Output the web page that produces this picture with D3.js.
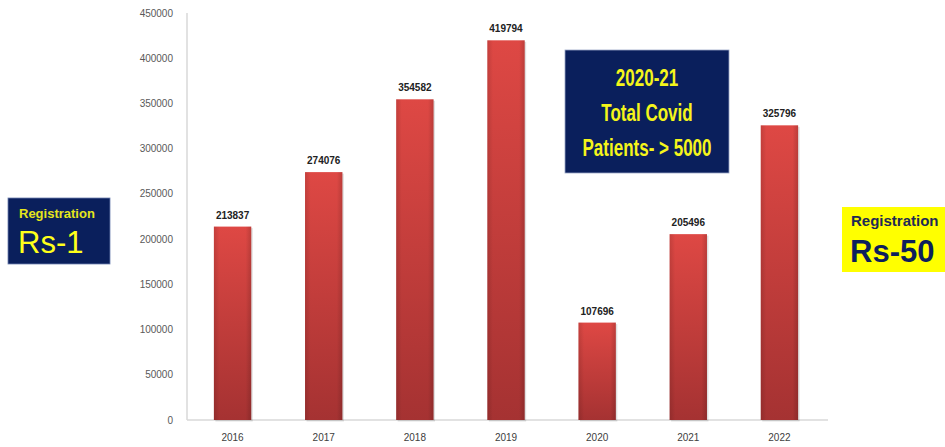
<!DOCTYPE html>
<html>
<head>
<meta charset="utf-8">
<script src="https://cdn.jsdelivr.net/npm/d3@7"></script>
<style>
  body { margin: 0; background: #fff; }
  svg { display: block; font-family: "Liberation Sans", Arial, sans-serif; }
</style>
</head>
<body>
<svg id="chart" width="945" height="447"></svg>
<script>
const years = ['2016', '2017', '2018', '2019', '2020', '2021', '2022'];
const patients = [213837, 274076, 354582, 419794, 107696, 205496, 325796];
const yTicks = [0, 50000, 100000, 150000, 200000, 250000, 300000, 350000, 400000, 450000];
const covidNote = ['2020-21', 'Total Covid', 'Patients- > 5000'];

const margin = { left: 187, right: 120, top: 13, bottom: 27 };
const width = 945;
const height = 447;

const svg = d3.select('#chart');

const x = d3.scaleBand()
    .domain(years)
    .range([margin.left, width - margin.right])
    .paddingInner(0.59)
    .paddingOuter(0.295);

const y = d3.scaleLinear()
    .domain([0, 450000])
    .range([height - margin.bottom, margin.top]);

// bar gradient
const defs = svg.append('defs');
const grad = defs.append('linearGradient')
    .attr('id', 'barGrad')
    .attr('x1', 0).attr('y1', 0).attr('x2', 0).attr('y2', 1);
grad.append('stop').attr('offset', '0%').attr('stop-color', '#de4844');
grad.append('stop').attr('offset', '100%').attr('stop-color', '#a53232');

const side = defs.append('linearGradient')
    .attr('id', 'sideGrad')
    .attr('x1', 0).attr('y1', 0).attr('x2', 1).attr('y2', 0);
side.append('stop').attr('offset', '0%').attr('stop-color', '#000').attr('stop-opacity', 0.12);
side.append('stop').attr('offset', '15%').attr('stop-color', '#000').attr('stop-opacity', 0);
side.append('stop').attr('offset', '85%').attr('stop-color', '#000').attr('stop-opacity', 0);
side.append('stop').attr('offset', '100%').attr('stop-color', '#000').attr('stop-opacity', 0.15);

// axes lines
svg.append('line')
    .attr('x1', margin.left).attr('x2', margin.left)
    .attr('y1', y(450000)).attr('y2', y(0))
    .attr('stroke', '#d9d9d9').attr('stroke-width', 1.5);
svg.append('line')
    .attr('x1', margin.left).attr('x2', width - margin.right + 3)
    .attr('y1', y(0)).attr('y2', y(0))
    .attr('stroke', '#d9d9d9').attr('stroke-width', 1.5);

// y tick labels
svg.append('g')
    .selectAll('text')
    .data(yTicks)
    .join('text')
    .attr('x', margin.left - 14)
    .attr('y', d => y(d))
    .attr('dy', '0.35em')
    .attr('text-anchor', 'end')
    .attr('font-size', 10)
    .attr('fill', '#595959')
    .text(d => d);

// bars
const bars = svg.append('g')
    .selectAll('g')
    .data(years.map((yr, i) => ({ yr, v: patients[i] })))
    .join('g');

bars.append('rect')
    .attr('x', d => x(d.yr) + 1.5)
    .attr('y', d => y(d.v) + 1.5)
    .attr('width', x.bandwidth())
    .attr('height', d => y(0) - y(d.v))
    .attr('fill', '#000')
    .attr('opacity', 0.12);

bars.append('rect')
    .attr('x', d => x(d.yr))
    .attr('y', d => y(d.v))
    .attr('width', x.bandwidth())
    .attr('height', d => y(0) - y(d.v))
    .attr('fill', 'url(#barGrad)');

bars.append('rect')
    .attr('x', d => x(d.yr))
    .attr('y', d => y(d.v))
    .attr('width', x.bandwidth())
    .attr('height', d => y(0) - y(d.v))
    .attr('fill', 'url(#sideGrad)');

// value labels
bars.append('text')
    .attr('x', d => x(d.yr) + x.bandwidth() / 2)
    .attr('y', d => y(d.v) - 8)
    .attr('text-anchor', 'middle')
    .attr('font-size', 10)
    .attr('font-weight', 'bold')
    .attr('fill', '#222')
    .text(d => d.v);

// x labels
svg.append('g')
    .selectAll('text')
    .data(years)
    .join('text')
    .attr('x', d => x(d) + x.bandwidth() / 2)
    .attr('y', y(0) + 17)
    .attr('dy', '0.35em')
    .attr('text-anchor', 'middle')
    .attr('font-size', 10)
    .attr('fill', '#404040')
    .text(d => d);

// left note box
const left = svg.append('g');
left.append('rect')
    .attr('x', 8).attr('y', 198).attr('width', 102).attr('height', 66)
    .attr('fill', '#0a1f5c').attr('stroke', '#6d7fae').attr('stroke-width', 0.8);
left.append('text')
    .attr('x', 19).attr('y', 218)
    .attr('font-size', 13).attr('font-weight', 'bold')
    .attr('fill', '#e5e51c')
    .text('Registration');
left.append('text')
    .attr('x', 18).attr('y', 253)
    .attr('font-size', 31)
    .attr('fill', '#ffff1a')
    .text('Rs-1');

// right note box
const right = svg.append('g');
right.append('rect')
    .attr('x', 842).attr('y', 207).attr('width', 103).attr('height', 65)
    .attr('fill', '#ffff00');
right.append('text')
    .attr('x', 851).attr('y', 226)
    .attr('font-size', 15).attr('font-weight', 'bold')
    .attr('fill', '#1e2a55')
    .text('Registration');
right.append('text')
    .attr('x', 850).attr('y', 262)
    .attr('font-size', 31).attr('font-weight', 'bold')
    .attr('fill', '#0d1f5c')
    .text('Rs-50');

// covid note box
const covid = svg.append('g');
covid.append('rect')
    .attr('x', 565).attr('y', 50).attr('width', 164).attr('height', 123)
    .attr('fill', '#0a1f5c').attr('stroke', '#9aa6c6').attr('stroke-width', 0.8);
const cx = 647;
const squeeze = 0.74;
covid.append('g')
    .attr('transform', `translate(${cx},0) scale(${squeeze},1)`)
    .selectAll('text')
    .data(covidNote)
    .join('text')
    .attr('x', 0)
    .attr('y', (d, i) => 86 + i * 35)
    .attr('text-anchor', 'middle')
    .attr('font-size', 23)
    .attr('font-weight', 'bold')
    .attr('fill', '#f5f51a')
    .text(d => d);
</script>
</body>
</html>
